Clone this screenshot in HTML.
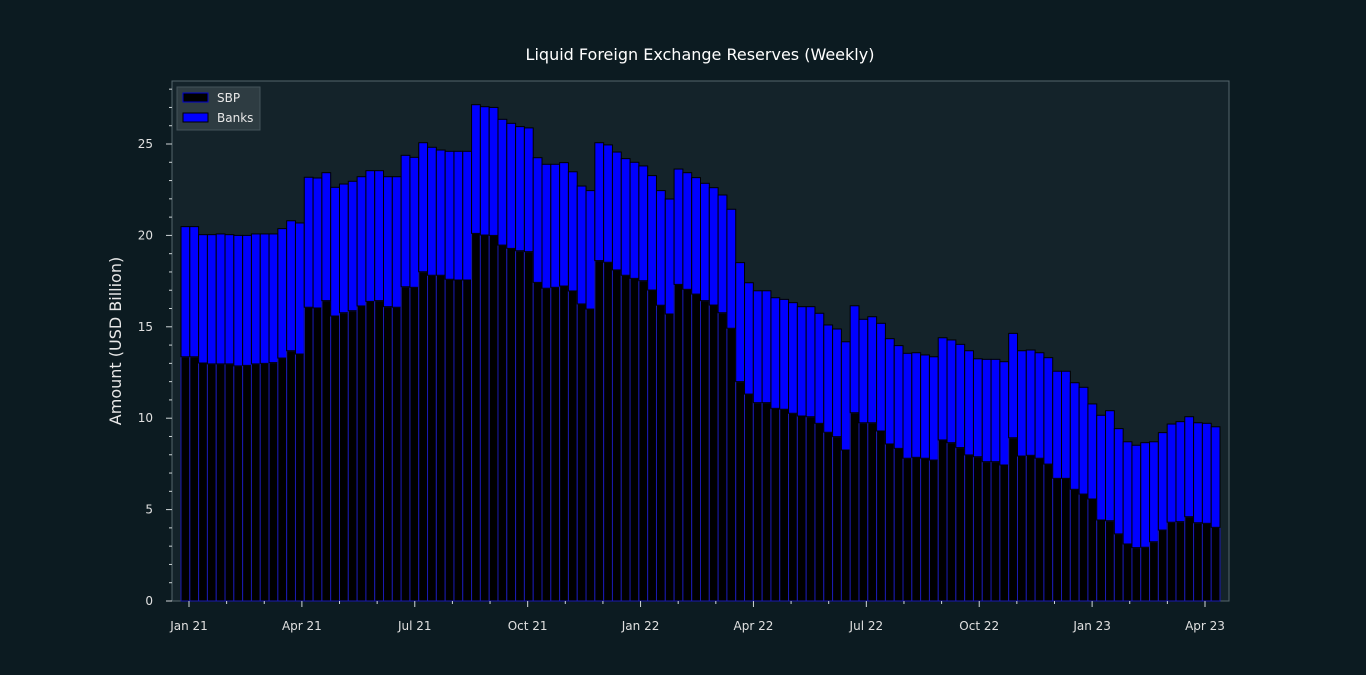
<!DOCTYPE html>
<html><head><meta charset="utf-8"><style>
html,body{margin:0;padding:0;background:#0c1b21;}
svg{display:block;font-family:"Liberation Sans","DejaVu Sans",sans-serif;}
</style></head><body>
<svg id="chart" width="1366" height="675">
<rect x="0" y="0" width="1366" height="675" fill="#0c1b21"/>
<rect x="172" y="81" width="1057" height="520" fill="#14232a" stroke="#55666c" stroke-width="1"/>
<text x="700" y="60" fill="#ffffff" font-size="16" text-anchor="middle" font-family="DejaVu Sans, sans-serif">Liquid Foreign Exchange Reserves (Weekly)</text>
<text transform="translate(121,341) rotate(-90)" fill="#e8e8e8" font-size="16" text-anchor="middle" font-family="DejaVu Sans, sans-serif">Amount (USD Billion)</text>
<g id="bars"></g>
<g id="axes"></g>
<g>
<rect x="177" y="87" width="83" height="43" fill="#2e3c42" stroke="#44535a"/>
<rect x="183" y="93" width="25" height="9" fill="#000000" stroke="#0000cc"/>
<text x="217" y="102" fill="#e8e8e8" font-size="12" font-family="DejaVu Sans, sans-serif">SBP</text>
<rect x="183" y="113" width="25" height="9" fill="#0000ff" stroke="#000"/>
<text x="217" y="122" fill="#e8e8e8" font-size="12" font-family="DejaVu Sans, sans-serif">Banks</text>
</g>
</svg>
<script>
const sbp = [13.36,13.36,13.02,12.97,12.97,12.97,12.86,12.89,12.97,13.0,13.04,13.29,13.69,13.51,16.07,16.03,16.43,15.59,15.77,15.88,16.14,16.39,16.43,16.1,16.07,17.19,17.16,18.01,17.82,17.82,17.6,17.56,17.56,20.11,20.02,20.0,19.47,19.29,19.16,19.11,17.43,17.11,17.16,17.23,16.96,16.25,15.97,18.62,18.53,18.11,17.82,17.65,17.52,17.01,16.18,15.7,17.32,17.05,16.79,16.43,16.19,15.77,14.92,12.0,11.32,10.85,10.85,10.54,10.49,10.27,10.12,10.08,9.72,9.23,8.99,8.26,10.3,9.75,9.75,9.3,8.59,8.35,7.81,7.86,7.81,7.71,8.81,8.66,8.39,7.99,7.89,7.62,7.62,7.44,8.93,7.93,7.97,7.81,7.49,6.71,6.71,6.11,5.85,5.58,4.43,4.39,3.67,3.12,2.92,2.94,3.24,3.88,4.31,4.34,4.61,4.28,4.25,4.03];
const total = [20.48,20.48,20.04,20.04,20.08,20.04,20.0,20.0,20.08,20.08,20.08,20.37,20.8,20.68,23.18,23.14,23.43,22.63,22.81,22.96,23.21,23.54,23.54,23.21,23.21,24.38,24.27,25.07,24.82,24.67,24.6,24.6,24.6,27.15,27.04,27.0,26.35,26.13,25.95,25.88,24.25,23.89,23.89,23.98,23.48,22.7,22.45,25.07,24.95,24.56,24.2,24.0,23.8,23.27,22.45,21.99,23.63,23.43,23.16,22.85,22.61,22.21,21.43,18.51,17.41,16.97,16.97,16.59,16.5,16.32,16.1,16.1,15.74,15.1,14.88,14.18,16.15,15.41,15.55,15.19,14.35,13.97,13.55,13.58,13.46,13.36,14.4,14.28,14.04,13.69,13.25,13.22,13.22,13.09,14.64,13.69,13.73,13.58,13.31,12.57,12.57,11.94,11.69,10.78,10.16,10.41,9.43,8.71,8.52,8.66,8.71,9.21,9.68,9.81,10.08,9.75,9.72,9.53];
const yTicks = [0,5,10,15,20,25];
const xTickLabels = ["Jan 21","Apr 21","Jul 21","Oct 21","Jan 22","Apr 22","Jul 22","Oct 22","Jan 23","Apr 23"];
const xTickMonths = [0,3,6,9,12,15,18,21,24,27];

const NS="http://www.w3.org/2000/svg";
const y0=601, pxPer=18.28;
function yScale(v){return y0 - v*pxPer;}
const barX0=181, barX1=1220;
function xBar(i){return barX0 + i*(barX1-barX0)/sbp.length;}
const bw=(barX1-barX0)/sbp.length;
function xMonth(m){return 189 + m*(1205-189)/27;}
function mk(tag,attrs,parent){const e=document.createElementNS(NS,tag);for(const k in attrs)e.setAttribute(k,attrs[k]);parent.appendChild(e);return e;}
const bars=document.getElementById('bars');
const axes=document.getElementById('axes');
for(let i=0;i<sbp.length;i++){
  const x=xBar(i);
  const r1=mk('rect',{x:x,y:yScale(sbp[i]),width:bw,height:sbp[i]*pxPer,fill:'#000000',stroke:'#1a1ab0','stroke-width':1},bars);
  
  
  const r2=mk('rect',{x:x,y:yScale(total[i]),width:bw,height:(total[i]-sbp[i])*pxPer,fill:'#0000ff',stroke:'#000000','stroke-width':1},bars);
  
  
}
for(let v=0;v<=28;v++){
  const major=v%5===0;
  const t=mk('line',{x1:172,x2:major?166:169,y1:yScale(v),y2:yScale(v),stroke:'#cfd6d8','stroke-width':1},axes);
  
  
}
yTicks.forEach(v=>{
  const t=mk('text',{x:153,y:yScale(v)+4,fill:'#e0e0e0','font-size':12,'text-anchor':'end','font-family':'DejaVu Sans, sans-serif'},axes);
  t.textContent=v;
  
  
});
for(let m=0;m<=27;m++){
  const major=m%3===0;
  const t=mk('line',{x1:xMonth(m),x2:xMonth(m),y1:601,y2:major?607:604,stroke:'#cfd6d8','stroke-width':1},axes);
  
  
}
xTickLabels.forEach((s,k)=>{
  const t=mk('text',{x:xMonth(xTickMonths[k]),y:630,fill:'#e0e0e0','font-size':12,'text-anchor':'middle','font-family':'DejaVu Sans, sans-serif'},axes);
  t.textContent=s;
  
  
});
</script>
</body></html>
